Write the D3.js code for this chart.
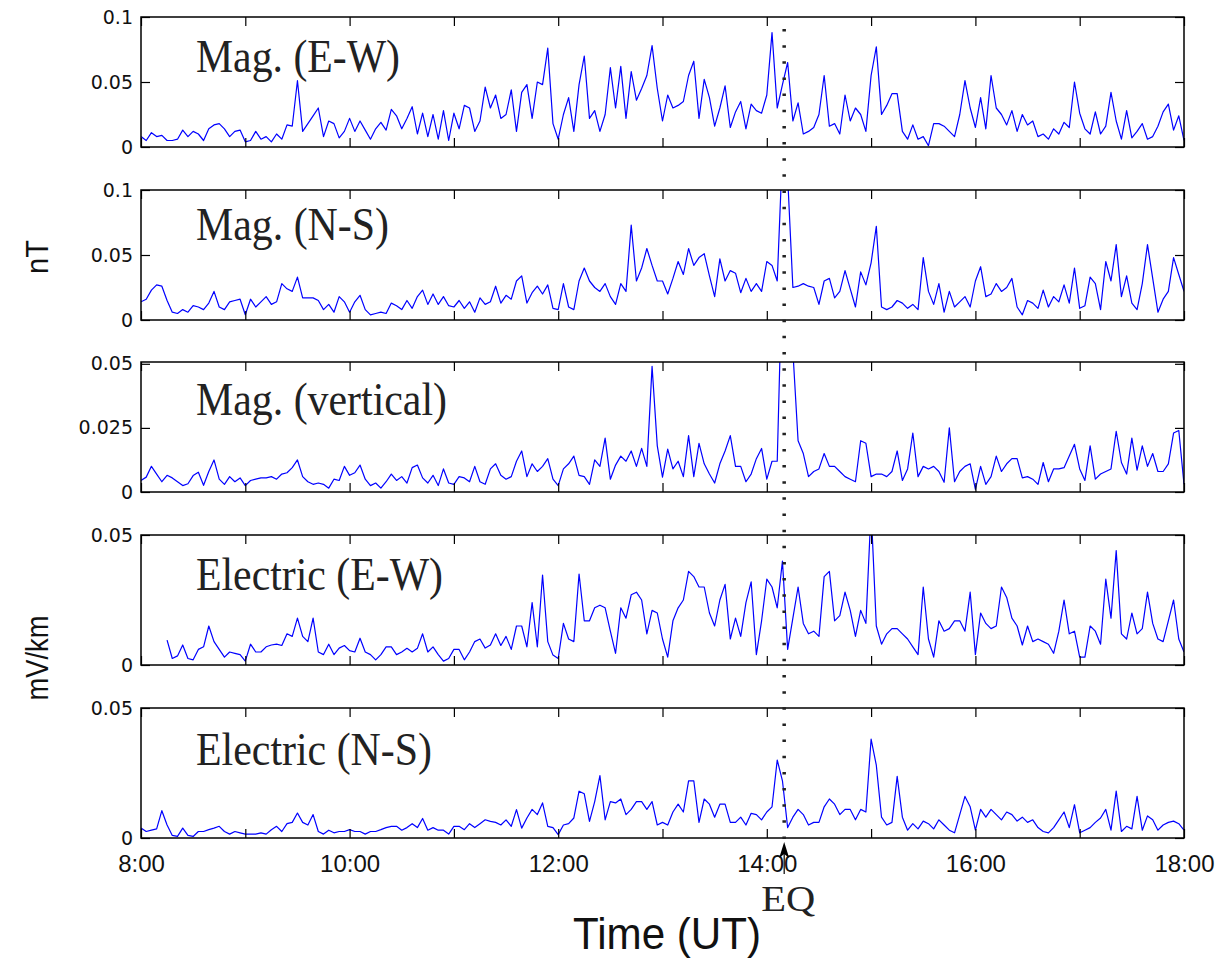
<!DOCTYPE html>
<html>
<head>
<meta charset="utf-8">
<script src="https://cdn.jsdelivr.net/npm/d3@7"></script>
<style>
  body { margin: 0; background: #fff; }
</style>
</head>
<body>
<svg id="chart" width="1222" height="958"></svg>
<script>
// series are sampled every 3 minutes from 08:00 to 18:00 UT, values in units of 0.001
const stepMin = 3;
const eqMin = 370; // earthquake at 14:10 UT

// Mag. (E-W), nT x 1e-3, one row per hour
const magEW = [
  8, 5, 11, 8, 9, 5, 5, 6, 13, 8, 12, 10, 5, 14, 17, 18, 14, 8, 12, 13,
  4, 5, 12, 6, 8, 4, 10, 6, 17, 16, 51, 12, 18, 24, 30, 8, 20, 18, 7, 12,
  22, 12, 20, 13, 6, 14, 19, 13, 29, 24, 14, 22, 31, 10, 26, 8, 25, 6, 28, 5,
  26, 14, 32, 30, 12, 20, 46, 30, 40, 22, 25, 44, 12, 42, 48, 22, 50, 48, 76, 18,
  6, 25, 38, 12, 48, 70, 22, 28, 12, 25, 61, 30, 62, 22, 58, 36, 45, 55, 78, 45,
  20, 40, 30, 32, 35, 55, 66, 22, 52, 38, 16, 30, 47, 15, 27, 35, 14, 33, 28, 26,
  40, 88, 30, 48, 65, 20, 34, 10, 12, 15, 25, 55, 16, 18, 10, 40, 20, 30, 25, 12,
  55, 77, 25, 32, 41, 41, 12, 6, 17, 6, 8, 1, 18, 18, 16, 12, 8, 25, 51, 30,
  15, 38, 14, 55, 30, 25, 17, 28, 12, 25, 17, 20, 8, 10, 6, 14, 10, 19, 15, 50,
  26, 14, 10, 27, 10, 16, 42, 20, 6, 28, 7, 12, 18, 6, 8, 16, 27, 33, 13, 24,
  5
];

// Mag. (N-S), nT x 1e-3
const magNS = [
  14, 16, 23, 27, 26, 15, 6, 5, 8, 6, 11, 10, 8, 13, 22, 10, 8, 14, 15, 16,
  4, 16, 10, 14, 18, 12, 14, 28, 24, 22, 33, 17, 17, 17, 15, 8, 12, 6, 18, 14,
  6, 14, 19, 8, 4, 5, 6, 5, 13, 11, 8, 15, 9, 18, 23, 12, 20, 12, 18, 11,
  10, 15, 9, 14, 6, 17, 12, 14, 26, 13, 19, 16, 30, 34, 13, 21, 26, 20, 27, 9,
  8, 28, 10, 8, 30, 40, 30, 25, 22, 28, 18, 12, 28, 22, 73, 30, 40, 55, 42, 30,
  30, 20, 32, 45, 35, 55, 42, 48, 51, 34, 18, 47, 30, 38, 36, 21, 32, 22, 28, 22,
  45, 42, 30, 130, 110, 25, 26, 28, 26, 25, 12, 30, 32, 17, 22, 38, 24, 10, 37, 27,
  44, 72, 10, 8, 10, 15, 13, 9, 12, 8, 48, 22, 12, 28, 6, 22, 10, 14, 18, 10,
  30, 41, 18, 20, 28, 22, 25, 32, 10, 4, 15, 13, 9, 23, 10, 18, 14, 27, 13, 40,
  9, 11, 33, 28, 8, 45, 30, 58, 18, 34, 13, 8, 28, 58, 32, 6, 16, 22, 48, 35,
  22
];

// Mag. (vertical), nT x 1e-3
const magVert = [
  4.5, 5.8, 10, 7, 4, 6.5, 5.5, 4, 2.5, 3.2, 6.4, 7.7, 2.6, 8, 12.5, 5, 3, 6, 4, 5.5,
  2.5, 4.5, 5, 5.5, 5.5, 6, 5, 7, 7.5, 9.5, 12.5, 6, 4, 3, 3.5, 3, 1.5, 5, 4.5, 10,
  6.5, 7.5, 10.5, 5, 2.5, 3.5, 1.5, 4, 7, 4.5, 6, 3.5, 9.5, 10.5, 5.5, 3.5, 6.5, 2.5, 9, 3.5,
  3, 6, 5.5, 4, 10, 4, 3, 9, 11, 6.5, 5, 6, 12, 16, 6, 11, 8, 10, 13, 5,
  2.5, 9, 11, 14, 6.5, 6, 3, 12.5, 10, 21, 5, 10.5, 14, 12, 16, 10, 17, 10, 49, 18,
  5.8, 16.7, 9, 12, 6, 22, 6, 19, 11, 7, 3.5, 11, 16, 22, 10, 10, 4, 7, 13, 17,
  5, 12, 12, 90, 90, 55, 20, 15, 6, 8, 9, 15, 10, 10, 8, 6, 5, 4, 20, 19,
  6, 7, 7, 6, 8, 16, 4.5, 9, 23, 6, 10, 9, 10, 8, 3.8, 25, 4, 8, 10, 11,
  1, 10, 3, 6, 14, 8, 11, 13, 13, 5.5, 6, 5, 3, 11.5, 4, 9, 9, 9.5, 14, 18.6,
  9, 4.5, 18, 5, 7, 8, 9, 23.7, 11.5, 7, 21, 8.5, 18, 10, 15, 8, 8, 11, 23, 24,
  3
];

// Electric (E-W), mV/km x 1e-3 (record starts at 08:15)
const elecEW = [
  null, null, null, null, null, 9.6, 2.5, 3.5, 7.7, 2.5, 2, 6, 7, 15, 9, 6, 3, 5, 4.5, 4,
  1.5, 8, 5, 5, 7, 7.7, 8, 7.5, 12, 11, 18, 11, 9, 18, 5, 4, 8, 4, 6.5, 7.5,
  5.5, 5, 10.3, 5, 4, 2, 4, 7, 7, 4, 5, 6.4, 5, 6.4, 12, 5, 7, 4, 1.5, 2.5,
  6, 6, 2, 5, 9, 10, 6.5, 7.7, 12, 7.5, 11, 6, 15, 15, 7, 24, 7, 34.6, 9, 3.8,
  2.5, 16, 10, 9, 35, 17, 17, 22, 23, 22, 13, 4.5, 22, 18, 27, 28, 25, 12, 21, 20,
  10, 3, 17, 22, 25, 36, 34, 30, 30, 20, 15, 25, 31, 10, 18, 11, 24, 32, 4, 17,
  33, 30, 22, 40, 6, 18, 30, 16, 12, 13, 11, 34, 36, 17, 19, 28, 21, 11, 21, 16,
  60, 15, 8, 12, 14, 14, 12, 10, 7, 4, 30, 10, 3, 17, 13, 14, 17, 17, 13, 28,
  4, 20, 16, 14, 15, 30, 26, 18, 15, 7.7, 15, 9, 10, 9, 8, 4.5, 13, 25, 12, 13,
  3, 3, 15, 13, 8, 33, 18, 44, 12, 10, 20, 12, 14, 28, 16, 10, 9, 17, 25, 10,
  5
];

// Electric (N-S), mV/km x 1e-3
const elecNS = [
  3.8, 2.5, 3, 3.5, 10.5, 5, 1, 0.6, 3.8, 1, 0.6, 2.5, 2.5, 3.2, 3.8, 4.5, 2.5, 1.5, 2.5, 2,
  1.5, 1.5, 1.5, 2, 1.5, 3.2, 4.5, 2.5, 5.5, 6, 9.6, 6, 5, 9, 2.5, 1.5, 3, 2, 2.5, 2.5,
  3.2, 2.5, 2.5, 1.5, 2.5, 2.5, 3.2, 4, 4.5, 4.5, 3, 4, 5.5, 4, 7.5, 3, 4, 3, 3, 1.5,
  4.5, 4.5, 3.2, 5.5, 4, 5.5, 7, 6.4, 6, 5, 7, 4.5, 10.9, 3.8, 7.7, 11, 9, 13.5, 4.5, 4,
  1.3, 5, 5.5, 7.7, 18, 17, 6.4, 14, 24, 7, 14, 13.5, 15, 9, 11, 14, 14, 11, 14, 5,
  6, 5, 10, 13, 10, 22, 22, 6, 15, 13, 8, 13, 13, 6, 6, 8, 5, 9.5, 9, 7,
  10, 12, 30, 22, 4, 8, 11, 9, 5, 6, 6, 12, 15, 13, 9, 11, 11, 7, 11, 10,
  38, 28, 8, 5, 6, 23.7, 8, 3, 5.5, 3.5, 6.5, 5.5, 3.5, 7, 5, 3, 2, 9, 16, 12,
  3, 11, 8, 11, 9, 7, 10, 9, 6.5, 8, 6, 7, 4, 2.5, 2, 4, 7, 10, 4, 12.8,
  2, 3, 4, 6, 7.7, 11, 3, 18, 2.5, 4.5, 3.5, 16, 3, 8.5, 7, 3, 5, 6, 6.5, 5.5,
  3
];

const panelLabels = ["Mag. (E-W)", "Mag. (N-S)", "Mag. (vertical)", "Electric (E-W)", "Electric (N-S)"];
const panelSeries = [magEW, magNS, magVert, elecEW, elecNS];
const yMaxes = [0.1, 0.1, 0.0507, 0.05, 0.05];
const yTicks = [[0, 0.05, 0.1], [0, 0.05, 0.1], [0, 0.025, 0.05], [0, 0.05], [0, 0.05]];
const hourTicks = [0, 60, 120, 180, 240, 300, 360, 420, 480, 540, 600];
const hourLabels = ["8:00", "", "10:00", "", "12:00", "", "14:00", "", "16:00", "", "18:00"];

// layout
const left = 141, right = 1184;
const panelTop = [17, 190, 362, 535, 708];
const panelH = 130;
const labelDy = [55, 50, 53, 55, 57];
const labelW = [204, 193, 251, 247, 236];

const svg = d3.select("#chart");

const x = d3.scaleLinear().domain([0, 600]).range([left, right]);

panelSeries.forEach((series, i) => {
  const top = panelTop[i];
  const y = d3.scaleLinear().domain([0, yMaxes[i]]).range([top + panelH, top]);
  const g = svg.append("g");

  g.append("clipPath").attr("id", "clip" + i)
    .append("rect")
    .attr("x", left).attr("y", top)
    .attr("width", right - left).attr("height", panelH);

  const line = d3.line()
    .defined(d => d != null)
    .x((d, k) => x(k * stepMin))
    .y(d => y(d * 0.001));

  g.append("path")
    .datum(series)
    .attr("clip-path", "url(#clip" + i + ")")
    .attr("d", line)
    .attr("fill", "none")
    .attr("stroke", "#0000ff")
    .attr("stroke-width", 1.2)
    .attr("stroke-linejoin", "round");

  // MATLAB style: ticks inside, on all four sides
  g.append("g")
    .attr("transform", `translate(${left},0)`)
    .call(d3.axisLeft(y).tickValues(yTicks[i]).tickFormat(d => String(d)).tickSize(-9).tickPadding(8))
    .call(a => a.select(".domain").remove())
    .call(a => a.selectAll("text").style("font-family", "'DejaVu Sans', sans-serif").style("font-size", "19px").attr("fill", "#111"));

  g.append("g")
    .attr("transform", `translate(${right},0)`)
    .call(d3.axisRight(y).tickValues(yTicks[i]).tickFormat("").tickSize(-9))
    .call(a => a.select(".domain").remove());

  g.append("g")
    .attr("transform", `translate(0,${top})`)
    .call(d3.axisTop(x).tickValues(hourTicks).tickFormat("").tickSize(-9))
    .call(a => a.select(".domain").remove());

  const bottom = g.append("g")
    .attr("transform", `translate(0,${top + panelH})`)
    .call(d3.axisBottom(x).tickValues(hourTicks)
      .tickFormat((d, k) => i === 4 ? hourLabels[k] : "")
      .tickSize(-9).tickPadding(17))
    .call(a => a.select(".domain").remove());
  bottom.selectAll("text")
    .style("font-family", "'Liberation Sans', Arial, sans-serif")
    .style("font-size", "24px")
    .attr("fill", "#111");

  g.selectAll(".tick line").attr("stroke", "#000").attr("stroke-width", 1.2);

  g.append("rect")
    .attr("x", left).attr("y", top)
    .attr("width", right - left).attr("height", panelH)
    .attr("fill", "none")
    .attr("stroke", "#000")
    .attr("stroke-width", 1.5);

  g.append("text")
    .attr("x", 196)
    .attr("y", top + labelDy[i])
    .attr("textLength", labelW[i])
    .attr("lengthAdjust", "spacingAndGlyphs")
    .style("font-family", "'Liberation Serif', 'Times New Roman', serif")
    .style("font-size", "46px")
    .attr("fill", "#222")
    .text(panelLabels[i]);
});

// dotted line at the earthquake time
svg.append("line")
  .attr("x1", x(eqMin)).attr("x2", x(eqMin))
  .attr("y1", 29).attr("y2", 840)
  .attr("stroke", "#222")
  .attr("stroke-width", 3.5)
  .attr("stroke-dasharray", "2.5 13.65");

// arrow pointing to EQ
const ax = x(eqMin);
svg.append("line")
  .attr("x1", ax).attr("x2", ax)
  .attr("y1", 852).attr("y2", 874)
  .attr("stroke", "#000").attr("stroke-width", 1.2);
svg.append("path")
  .attr("d", `M${ax},842 L${ax - 5},858 L${ax},854 L${ax + 5},858 Z`)
  .attr("fill", "#000");

svg.append("text")
  .attr("x", ax + 4).attr("y", 911)
  .attr("text-anchor", "middle")
  .attr("textLength", 54)
  .attr("lengthAdjust", "spacingAndGlyphs")
  .style("font-family", "'Liberation Serif', 'Times New Roman', serif")
  .style("font-size", "36px")
  .attr("fill", "#222")
  .text("EQ");

svg.append("text")
  .attr("x", 667).attr("y", 949)
  .attr("text-anchor", "middle")
  .attr("textLength", 188)
  .attr("lengthAdjust", "spacingAndGlyphs")
  .style("font-family", "'Liberation Sans', Arial, sans-serif")
  .style("font-size", "44px")
  .attr("fill", "#111")
  .text("Time (UT)");

// unit labels
svg.append("text")
  .attr("transform", "translate(48,257) rotate(-90)")
  .attr("text-anchor", "middle")
  .attr("textLength", 34)
  .attr("lengthAdjust", "spacingAndGlyphs")
  .style("font-family", "'Liberation Sans', Arial, sans-serif")
  .style("font-size", "31px")
  .attr("fill", "#111")
  .text("nT");

svg.append("text")
  .attr("transform", "translate(48,658) rotate(-90)")
  .attr("text-anchor", "middle")
  .attr("textLength", 85)
  .attr("lengthAdjust", "spacingAndGlyphs")
  .style("font-family", "'Liberation Sans', Arial, sans-serif")
  .style("font-size", "31px")
  .attr("fill", "#111")
  .text("mV/km");
</script>
</body>
</html>
